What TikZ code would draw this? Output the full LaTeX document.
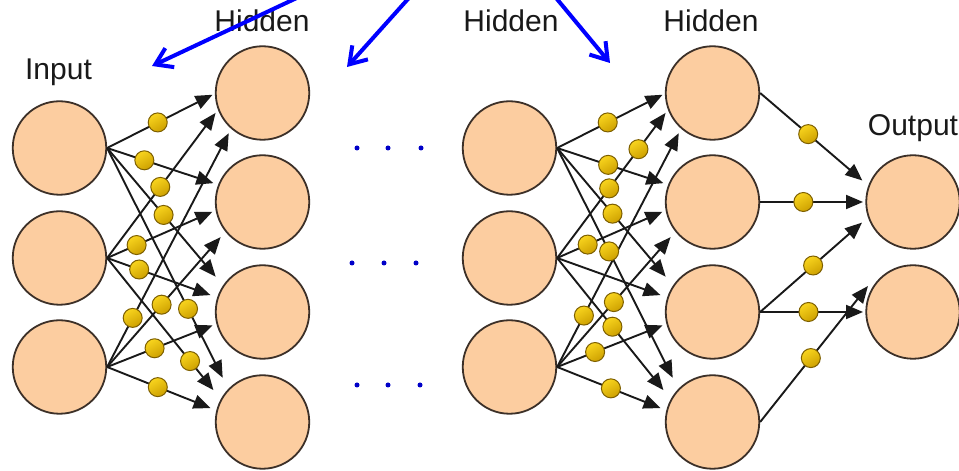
\documentclass[tikz,border=0pt]{standalone}
\usepackage{fontspec}
\setmainfont{Liberation Sans}
\usetikzlibrary{arrows.meta,calc}
\definecolor{peach}{RGB}{252,205,160}
\definecolor{rimcol}{RGB}{60,48,40}
\definecolor{linecol}{RGB}{25,25,25}
\definecolor{dotlight}{RGB}{248,212,30}
\definecolor{dotdark}{RGB}{205,160,0}
\definecolor{dotrim}{RGB}{125,95,0}
\definecolor{arrblue}{RGB}{0,0,255}
\definecolor{dotblue}{RGB}{0,0,200}
\definecolor{txtcol}{RGB}{25,25,25}
\newcommand{\lnk}[5]{\draw[edge] (#1.east) -- coordinate[pos=#4] (#5) ($(#2)+(#3)$);}
\begin{document}
\begin{tikzpicture}[x=1pt,y=1pt,
  neuron/.style={circle, draw=rimcol, line width=1.8pt, fill=peach, minimum size=93.5pt, inner sep=0pt},
  edge/.style={draw=linecol, line width=1.9pt, -{Triangle[length=17pt,width=14pt]}},
  wdot/.style={circle, draw=dotrim, line width=1pt, top color=dotlight, bottom color=dotdark, shading angle=30, minimum size=19pt, inner sep=0pt},
  lbl/.style={font=\fontsize{30}{36}\selectfont, text=txtcol, anchor=base, inner sep=0pt},
  bluearrow/.style={draw=arrblue, line width=4pt, -{Straight Barb[length=16pt,width=21pt]}},
  bdot/.style={circle, fill=dotblue, minimum size=5pt, inner sep=0pt}]
\useasboundingbox (0,0) rectangle (959,471);
\clip (0,0) rectangle (959,471);
\fill[white] (0,0) rectangle (959,471);
% neurons
\node[neuron] (i1) at (59.5,323) {};
\node[neuron] (i2) at (59.5,213) {};
\node[neuron] (i3) at (59.5,104) {};
\node[neuron] (a1) at (262.5,378) {};
\node[neuron] (a2) at (262.5,269) {};
\node[neuron] (a3) at (262.5,159) {};
\node[neuron] (a4) at (262.5,49) {};
\node[neuron] (b1) at (509.5,323) {};
\node[neuron] (b2) at (509.5,213) {};
\node[neuron] (b3) at (509.5,104) {};
\node[neuron] (c1) at (712.5,378) {};
\node[neuron] (c2) at (712.5,269) {};
\node[neuron] (c3) at (712.5,159) {};
\node[neuron] (c4) at (712.5,49) {};
\node[neuron] (o1) at (913,269) {};
\node[neuron] (o2) at (913,159) {};
% labels
\node[lbl] (tin) at (58.5,391) {Input};
\node[lbl] (th1) at (262,439) {Hidden};
\node[lbl] (th2) at (511,439) {Hidden};
\node[lbl] (th3) at (711,439) {Hidden};
\node[lbl] (tout) at (913,335) {Output};
% left connections
\lnk{i1}{a1}{182:50}{.48}{L11}
\lnk{i1}{a2}{159:52.6}{.35}{L12}
\lnk{i1}{a3}{143:58.6}{.52}{L13}
\lnk{i1}{a4}{132:59.5}{.70}{L14}
\lnk{i2}{a1}{203:51}{.49}{L21}
\lnk{i2}{a2}{191:51}{.28}{L22}
\lnk{i2}{a3}{162:54.7}{.31}{L23}
\lnk{i2}{a4}{147:58.5}{.78}{L24}
\lnk{i3}{a1}{230:52.5}{.21}{L31}
\lnk{i3}{a2}{220:54.7}{.48}{L32}
\lnk{i3}{a3}{195:51.7}{.45}{L33}
\lnk{i3}{a4}{165:53.8}{.49}{L34}
% right connections
\lnk{b1}{c1}{182:50}{.48}{R11}
\lnk{b1}{c2}{159:52.6}{.48}{R12}
\lnk{b1}{c3}{143:58.6}{.51}{R13}
\lnk{b1}{c4}{132:59.5}{.45}{R14}
\draw[edge] (b2.east) -- coordinate[pos=.48] (R21) coordinate[pos=.75] (R21b) ($(c1)+(203:51)$);
\lnk{b2}{c2}{191:51}{.29}{R22}
\draw[edge] (b2.east) -- ($(c3)+(162:54.7)$);
\lnk{b2}{c4}{147:58.5}{.52}{R24}
\lnk{b3}{c1}{230:52.5}{.22}{R31}
\lnk{b3}{c2}{220:54.7}{.50}{R32}
\lnk{b3}{c3}{195:51.7}{.36}{R33}
\lnk{b3}{c4}{165:53.8}{.52}{R34}
% output connections
\lnk{c1}{o1}{157:55}{.47}{O1}
\lnk{c2}{o1}{180:50}{.42}{O2}
\lnk{c3}{o1}{202:55}{.52}{O3}
\lnk{c3}{o2}{180:50}{.47}{O4}
\lnk{c4}{o2}{150:52}{.47}{O5}
% weights
\foreach \p in {L11,L12,L13,L14,L21,L22,L23,L24,L31,L32,L33,L34,
  R11,R12,R13,R14,R21,R21b,R22,R24,R31,R32,R33,R34,O1,O2,O3,O4,O5}
  \node[wdot] (w\p) at (\p) {};
% ellipsis dots
\node[bdot] (e11) at (357,323) {};
\node[bdot] (e12) at (388,323) {};
\node[bdot] (e13) at (421,323) {};
\node[bdot] (e21) at (352,208) {};
\node[bdot] (e22) at (384,208) {};
\node[bdot] (e23) at (416,208) {};
\node[bdot] (e31) at (357,86) {};
\node[bdot] (e32) at (388,86) {};
\node[bdot] (e33) at (420,86) {};
% blue arrows from above
\coordinate (s1) at (335,491);
\coordinate (t1) at (152,405);
\coordinate (s2) at (425,491);
\coordinate (t2) at (347,404);
\coordinate (s3) at (542,490);
\coordinate (t3) at (610,408);
\draw[bluearrow] (s1) -- (t1);
\draw[bluearrow] (s2) -- (t2);
\draw[bluearrow] (s3) -- (t3);
\end{tikzpicture}
\end{document}
